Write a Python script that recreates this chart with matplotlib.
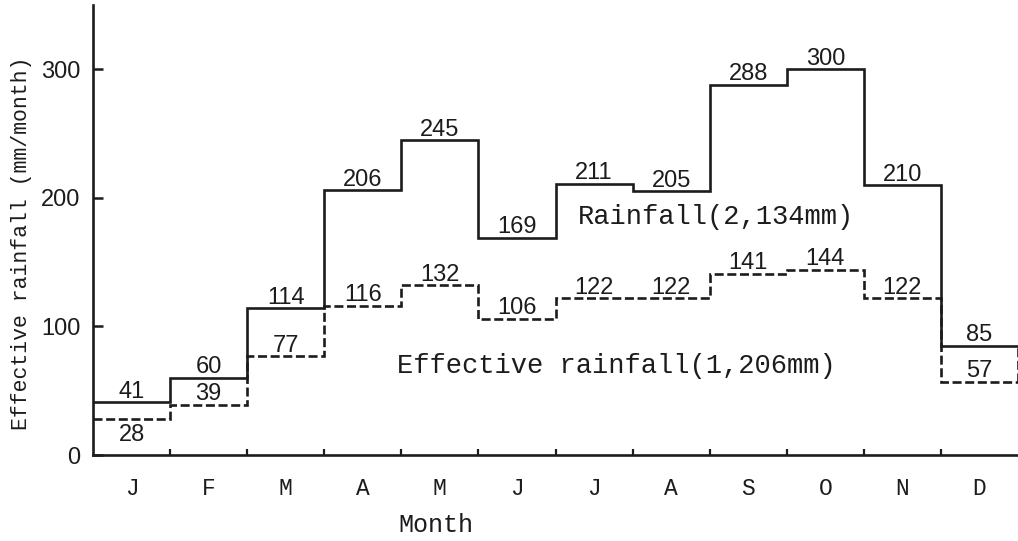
"""Monthly rainfall and effective rainfall, step chart (typewriter style)."""

import numpy as np
import matplotlib.pyplot as plt

plt.rcParams["lines.scale_dashes"] = False

months = ["J", "F", "M", "A", "M", "J", "J", "A", "S", "O", "N", "D"]
rainfall = [41, 60, 114, 206, 245, 169, 211, 205, 288, 300, 210, 85]
effective = [28, 39, 77, 116, 132, 106, 122, 122, 141, 144, 122, 57]

ink = "#1c1c1c"
mono = "Liberation Mono"
sans = "Liberation Sans"

fig = plt.figure(figsize=(10.18, 5.41), dpi=100)
ax = fig.add_axes([93/1018, 86/541, 925/1018, 450/541])

edges = np.arange(len(months) + 1)
ax.stairs(rainfall, edges, baseline=None, color=ink, linewidth=1.9)
ax.stairs(effective, edges, baseline=None, color=ink, linewidth=1.9,
          linestyle=(0, (6.5, 2.6)))
# closing dashed edge on the right
ax.vlines(edges[-1], effective[-1], rainfall[-1], color=ink, linewidth=1.9,
          linestyles=[(0, (6.5, 2.6))], clip_on=False)

# value labels
centers = edges[:-1] + 0.5
for x, r, e in zip(centers, rainfall, effective):
    ax.annotate(str(r), (x, r), xytext=(0, 3.2), textcoords="offset points",
                ha="center", va="baseline", fontsize=17, family=sans, color=ink)
    dy = -16 if e == effective[0] else 3.2
    ax.annotate(str(e), (x, e), xytext=(0, dy), textcoords="offset points",
                ha="center", va="baseline", fontsize=17, family=sans, color=ink)

ax.text(6.29, 180, "Rainfall(2,134mm)", fontsize=19.5, family=mono,
        color=ink, va="baseline")
ax.text(3.94, 64, "Effective rainfall(1,206mm)", fontsize=19.5, family=mono,
        color=ink, va="baseline")

ax.set_xlim(0, 12)
ax.set_ylim(0, 350)

for side in ["top", "right"]:
    ax.spines[side].set_visible(False)
for side in ["left", "bottom"]:
    ax.spines[side].set_linewidth(1.9)
    ax.spines[side].set_color(ink)

ax.set_yticks([0, 100, 200, 300])
ax.tick_params(axis="y", direction="in", length=7, width=1.8, pad=9,
               labelsize=17, colors=ink)
for lab in ax.get_yticklabels():
    lab.set_family(sans)

ax.set_xticks(centers)
ax.set_xticklabels(months, family=mono, fontsize=16.5)
ax.set_xticks(edges[1:-1], minor=True)
ax.tick_params(axis="x", which="major", length=0, pad=16, colors=ink)
ax.tick_params(axis="x", which="minor", direction="in", length=4.5, width=1.6,
               colors=ink)

ax.text(0.371, -0.171, "Month", transform=ax.transAxes, fontsize=18,
        family=mono, color=ink, ha="center", va="baseline")
ax.text(-0.077, 0.471, "Effective rainfall (mm/month)", transform=ax.transAxes,
        fontsize=15.5, family=mono, color=ink, rotation=90,
        ha="center", va="center")

fig.savefig("out.png", dpi=100)
